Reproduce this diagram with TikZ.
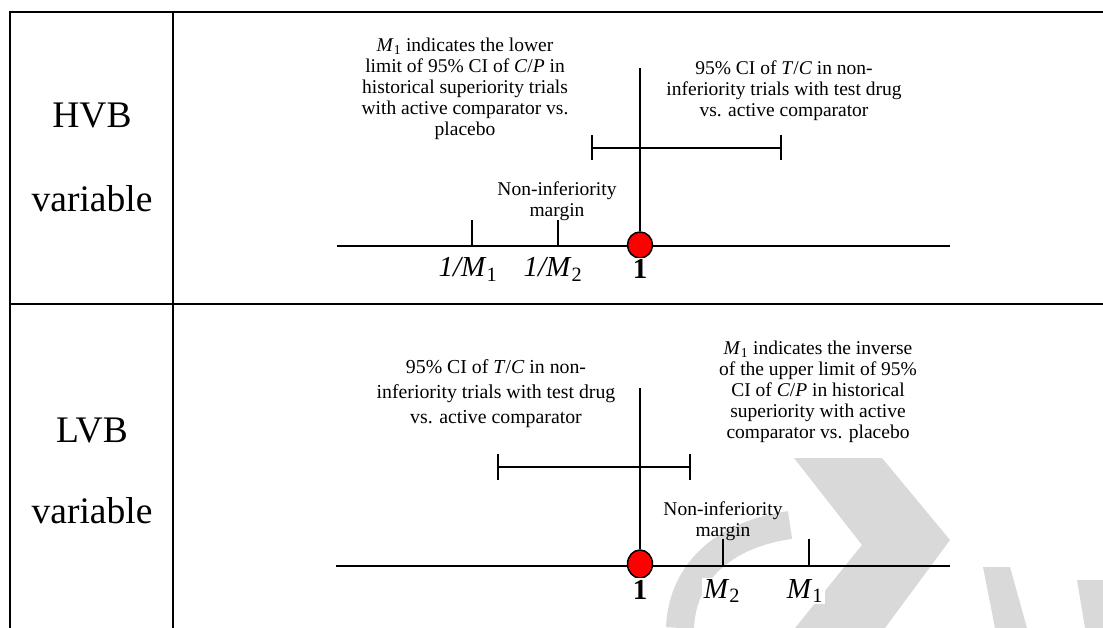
\documentclass[tikz,border=0pt]{standalone}
\usepackage{fontspec}
\setmainfont{Liberation Serif}
\usetikzlibrary{shapes.geometric}
\definecolor{wm}{RGB}{217,217,217}
\begin{document}
\begin{tikzpicture}[x=1pt,y=-1pt,
  tbl/.style={line width=2.7pt, line join=miter},
  axisline/.style={line width=2pt},
  tickline/.style={line width=2pt},
  txt/.style={align=center, inner sep=0pt, anchor=north, font=\fontsize{19.5}{21}\selectfont},
  txtb/.style={align=center, inner sep=0pt, anchor=north, font=\fontsize{19.8}{25}\selectfont},
  big/.style={inner sep=0pt, anchor=base, font=\fontsize{37.5}{40}\selectfont},
  axlab/.style={inner sep=1.5pt, anchor=base, fill=white, font=\fontsize{29}{30}\selectfont},
  onept/.style={ellipse, draw=black, fill=red, line width=1.5pt, inner sep=0pt, minimum width=25pt, minimum height=26pt},
  wmark/.style={fill=wm, draw=none}]
\useasboundingbox (0,0) rectangle (1103,628);
\fill[white] (0,0) rectangle (1103,628);

% watermark (approximate)
\fill[wmark] (794,458) -- (882,458) -- (950,540) -- (885,628) -- (795,628) -- (862,545) -- cycle;
\draw[wm, line width=28pt] (680,628) .. controls (682,575) and (720,535) .. (790,525);
\fill[wmark] (983,567) -- (1010,567) -- (1027,628) -- (995,628) -- cycle;
\fill[wmark] (1077,580) -- (1103,580) -- (1103,628) -- (1085,628) -- cycle;

% table
\draw[tbl] (10,628) -- (10,12) -- (1103,12);
\draw[tbl] (173,12) -- (173,628);
\draw[tbl] (10,304) -- (1103,304);

\node[big] (hvb) at (92,128) {HVB};
\node[big] (hvar) at (92,212) {variable};
\node[big] (lvb) at (92,442) {LVB};
\node[big] (lvar) at (92,523) {variable};

% ---------- HVB panel ----------
\coordinate (hL) at (337,246);
\coordinate (hR) at (950,246);
\draw[axisline] (hL) -- (hR);
\coordinate (hm1) at (472,246);
\coordinate (hm2) at (558,246);
\draw[tickline] (hm1) -- ++(0,-26);
\draw[tickline] (hm2) -- ++(0,-26);
\coordinate (hciL) at (592,148);
\coordinate (hciR) at (781,148);
\draw[tickline] (hciL) -- (hciR);
\draw[tickline] ([yshift=12.5pt]hciL) -- ([yshift=-12.5pt]hciL);
\draw[tickline] ([yshift=12.5pt]hciR) -- ([yshift=-12.5pt]hciR);
\node[onept] (h1) at (640,245) {};
\coordinate (htop) at (640,68);
\draw[tickline] (htop) -- (h1.north);

\node[txt] (htxtL) at (465,38) {\textit{M}\textsubscript{1} indicates the lower\\limit of 95\% CI of \textit{C}/\textit{P} in\\historical superiority trials\\with active comparator vs.\\placebo};
\node[txt] (htxtR) at (784,61) {95\% CI of \textit{T}/\textit{C} in non-\\inferiority trials with test drug\\vs. active comparator};
\node[txt] (hnim) at (557,182) {Non-inferiority\\margin};
\node[axlab] (hl1) at (468,277) {\textit{1/M}\textsubscript{1}};
\node[axlab] (hl2) at (553,277) {\textit{1/M}\textsubscript{2}};
\node[axlab] (hlone) at (640,279) {\textbf{1}};

% ---------- LVB panel ----------
\coordinate (lL) at (336,566);
\coordinate (lR) at (950,566);
\draw[axisline] (lL) -- (lR);
\coordinate (lm2) at (723,566);
\coordinate (lm1) at (809,566);
\draw[tickline] (lm2) -- ++(0,-27);
\draw[tickline] (lm1) -- ++(0,-27);
\coordinate (lciL) at (498,467);
\coordinate (lciR) at (690,467);
\draw[tickline] (lciL) -- (lciR);
\draw[tickline] ([yshift=13pt]lciL) -- ([yshift=-13pt]lciL);
\draw[tickline] ([yshift=13pt]lciR) -- ([yshift=-13pt]lciR);
\node[onept, minimum height=28pt] (l1) at (640,564) {};
\coordinate (ltop) at (640,388);
\draw[tickline] (ltop) -- (l1.north);

\node[txtb] (ltxtL) at (496,359) {95\% CI of \textit{T}/\textit{C} in non-\\inferiority trials with test drug\\vs. active comparator};
\node[txt] (ltxtR) at (818,341) {\textit{M}\textsubscript{1} indicates the inverse\\of the upper limit of 95\%\\CI of \textit{C}/\textit{P} in historical\\superiority with active\\comparator vs. placebo};
\node[txt] (lnim) at (723,502) {Non-inferiority\\margin};
\node[axlab] (llone) at (640,599) {\textbf{1}};
\node[axlab] (ll2) at (722,598) {\textit{M}\textsubscript{2}};
\node[axlab] (ll1) at (805,598) {\textit{M}\textsubscript{1}};
\end{tikzpicture}
\end{document}
